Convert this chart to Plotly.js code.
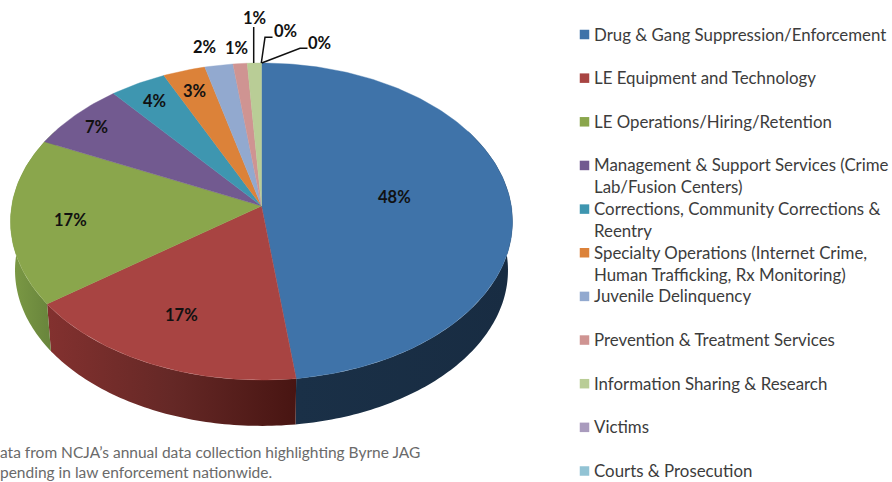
<!DOCTYPE html>
<html><head><meta charset="utf-8">
<script src="https://cdn.plot.ly/plotly-3.0.1.min.js"></script>
<style>html,body{margin:0;padding:0;background:#fff}</style></head>
<body><div id="chart" style="width:892px;height:482px"></div>
<script>
const categories = ["Drug & Gang Suppression/Enforcement","LE Equipment and Technology","LE Operations/Hiring/Retention",
 "Management & Support Services (Crime<br>Lab/Fusion Centers)","Corrections, Community Corrections &<br>Reentry",
 "Specialty Operations (Internet Crime,<br>Human Trafficking, Rx Monitoring)","Juvenile Delinquency",
 "Prevention & Treatment Services","Information Sharing & Research","Victims","Courts & Prosecution"];
const shares = [48,17,17,7,4,3,2,1,1,0,0];
const colors = ["#3f73a9","#a84442","#8aa64c","#725a90","#3e96b0","#dc8239","#92a9cf","#cf9492","#b9cd96","#a99bbd","#92c3d4"];
const wallScales = {
  0:[[0,"#1a3047"],[1,"#182c42"]],
  1:[[0,"#83312f"],[0.5,"#652826"],[1,"#481512"]],
  2:[[0,"#7c9a45"],[1,"#64803a"]]
};
const insideLabels = [[394,197],[181,315],[70,220],[96,127],[154,101],[194,91]];
const outsideLabels = [[204,47],[236,48],[254.5,18],[285,31],[319.5,43]];
const leaderLines = [
  {x:[253.7,253.7],y:[63,27]},
  {x:[261.3,265,272.5],y:[63,37.3,37.3]},
  {x:[261.7,300,307.5],y:[63,48.3,48.3]}
];
const footnote = ["ata from NCJA’s annual data collection highlighting Byrne JAG","pending in law enforcement nationwide."];

// perspective model of the tilted disc
const cx=261.5, cy=206, A=249.8, B=157, k=0.0978, lowerScale=0.982, lowerDrop=49;
const STEP=1;
function rim(theta, lower){
  const t=theta*Math.PI/180, u=Math.sin(t), v=-Math.cos(t), w=1-k*v;
  const s=lower?lowerScale:1, d=lower?lowerDrop:0;
  return [cx+s*A*u/w, cy+d+s*B*v/w];
}
function angles(a,b){const o=[];for(let t=a;t<b;t+=STEP)o.push(t);o.push(b);return o;}
const cum=[0];shares.forEach(s=>cum.push(cum[cum.length-1]+s));
const total=cum[cum.length-1];
const deg=p=>p/total*360;

const data=[];
// side walls (visible front portion only)
[0,1,2].forEach(i=>{
  const a=i===0?60:deg(cum[i]), b=i===2?300:deg(cum[i+1]);
  const ts=angles(a,b);
  const top=ts.map(t=>rim(t,false)), low=ts.slice().reverse().map(t=>rim(t,true));
  const pts=top.concat(low);
  pts.push(pts[0]);
  data.push({type:"scatter",mode:"none",fill:"toself",x:pts.map(p=>p[0]),y:pts.map(p=>p[1]),
    fillgradient:{type:"horizontal",colorscale:wallScales[i]},showlegend:false,hoverinfo:"skip"});
});
// top face slices
shares.forEach((s,i)=>{
  if(s<=0) return;
  const ts=angles(deg(cum[i]),deg(cum[i+1]));
  const pts=[[cx,cy]].concat(ts.map(t=>rim(t,false)));
  pts.push([cx,cy]);
  data.push({type:"scatter",mode:"lines",fill:"toself",fillcolor:colors[i],line:{color:colors[i],width:0.4},
    x:pts.map(p=>p[0]),y:pts.map(p=>p[1]),name:categories[i],showlegend:false,hoverinfo:"name"});
});
// leader lines
leaderLines.forEach(l=>data.push({type:"scatter",mode:"lines",x:l.x,y:l.y,line:{color:"#111",width:1.5},showlegend:false,hoverinfo:"skip"}));
// legend swatches
const legendTop=34.5, legendPitch=43.65, legendX=584.5, legendTextX=592;
data.push({type:"scatter",mode:"markers",x:categories.map(()=>legendX),y:categories.map((c,i)=>legendTop+i*legendPitch),
  marker:{symbol:"square",size:9.5,color:colors,line:{width:0}},showlegend:false,hoverinfo:"skip"});

const annotations=[];
const labelFont={family:"Lato, sans-serif",size:16.5,color:"#111"};
const anno=(txt,p)=>annotations.push({xref:"x",yref:"y",x:p[0],y:p[1],text:"<b>"+txt+"</b>",showarrow:false,font:labelFont,xanchor:"center",yanchor:"middle"});
insideLabels.forEach((p,i)=>anno(shares[i]+"%",p));
outsideLabels.forEach((p,i)=>anno(shares[i+6]+"%",p));
categories.forEach((c,i)=>annotations.push({xref:"x",yref:"y",x:legendTextX,y:legendTop+i*legendPitch-13,text:c,showarrow:false,
  align:"left",xanchor:"left",yanchor:"top",font:{family:"Lato, sans-serif",size:16.85,color:"#3c3c3c"}}));
footnote.forEach((t,i)=>annotations.push({xref:"x",yref:"y",x:0,xshift:-2,y:452+i*20,text:t,showarrow:false,align:"left",xanchor:"left",yanchor:"middle",
  font:{family:"Lato, sans-serif",size:15.5,color:"#6a6a6a"}}));

Plotly.newPlot("chart",data,{
  width:892,height:482,margin:{l:0,r:0,t:0,b:0},showlegend:false,
  paper_bgcolor:"#fff",plot_bgcolor:"#fff",
  xaxis:{visible:false,range:[0,892],fixedrange:true},
  yaxis:{visible:false,range:[482,0],fixedrange:true},
  annotations
},{displayModeBar:false,staticPlot:true});
</script></body></html>
